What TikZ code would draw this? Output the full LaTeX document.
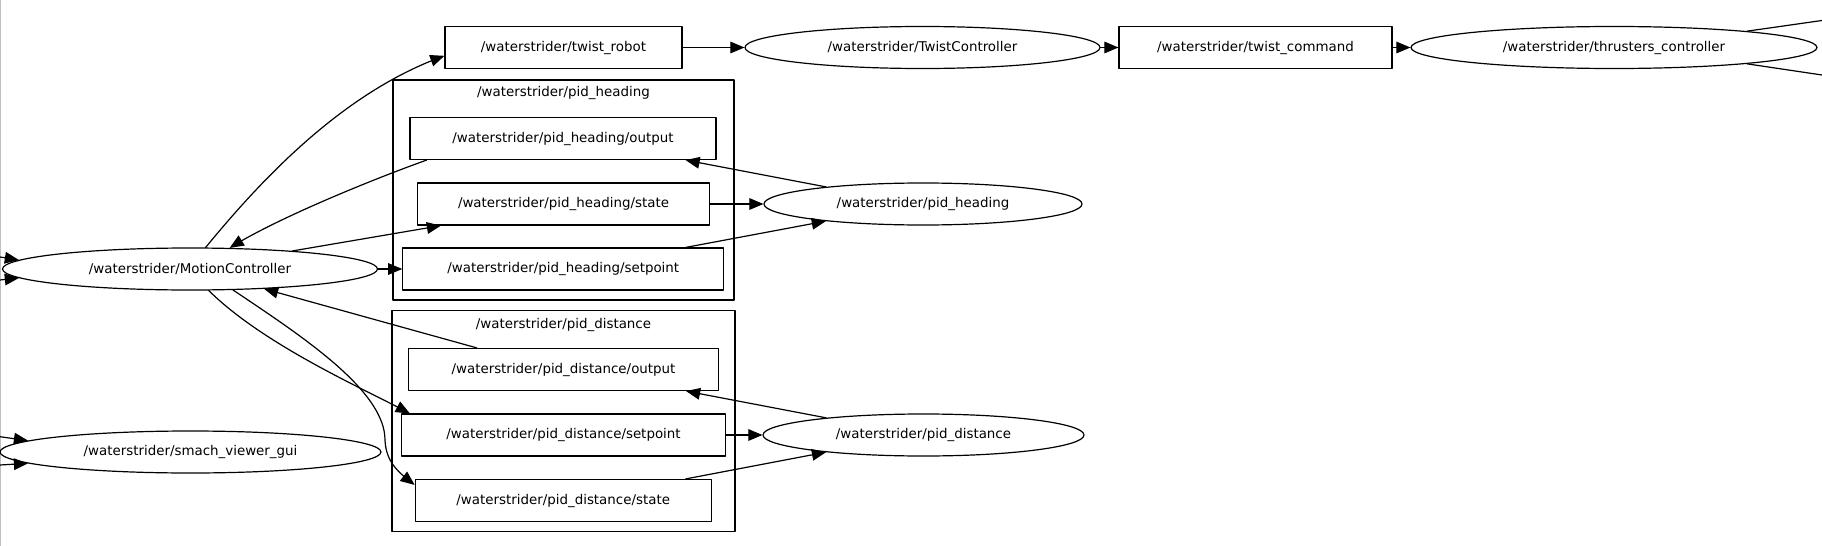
\documentclass[tikz,border=0pt]{standalone}
\usepackage{fontspec}
\setmainfont{DejaVu Sans}
\usepackage{tikz}
\usetikzlibrary{arrows,shapes.geometric}

\begin{document}
\begin{tikzpicture}[line cap=round,line join=round,>=triangle 45,x=0.5pt,y=-0.5pt,
    line width=0.6pt,
    every node/.style={font=\fontsize{6.7}{8}\selectfont},
    topic/.style={draw,rectangle,minimum height=21pt,inner sep=0pt},
    rosnode/.style={draw,ellipse,minimum height=21pt,inner sep=0pt}]
  \useasboundingbox (0,0) rectangle (1822,546);
  \draw[color=gray!50] (0.5,0) -- (0.5,546);

  \node[rosnode,minimum width=187.5pt] (mctrl) at (190,269) {/waterstrider/MotionController};
  \node[rosnode,minimum width=190.5pt] (smach) at (190.5,452) {/waterstrider/smach\_viewer\_gui};
  \node[topic,minimum width=118.5pt] (twrobot) at (563.5,47.5) {/waterstrider/twist\_robot};
  \node[rosnode,minimum width=177.5pt] (twctrl) at (922.5,47.5) {/waterstrider/TwistController};
  \node[topic,minimum width=136.5pt] (twcmd) at (1255.5,47.5) {/waterstrider/twist\_command};
  \node[rosnode,minimum width=203pt] (thrust) at (1614,47.5) {/waterstrider/thrusters\_controller};

  % pid_heading group
  \draw (393,80) rectangle (734,300);
  \node (hlabel) at (563.5,93) {/waterstrider/pid\_heading};
  \node[topic,minimum width=153pt] (hout) at (563,138.5) {/waterstrider/pid\_heading/output};
  \node[topic,minimum width=146pt] (hstate) at (563.5,204) {/waterstrider/pid\_heading/state};
  \node[topic,minimum width=160.5pt] (hset) at (563.3,269) {/waterstrider/pid\_heading/setpoint};
  \node[rosnode,minimum width=159pt] (hpid) at (923,204) {/waterstrider/pid\_heading};

  % pid_distance group
  \draw (392,310.7) rectangle (735,531.7);
  \node (dlabel) at (563.5,325) {/waterstrider/pid\_distance};
  \node[topic,minimum width=155pt] (dout) at (563.5,369.5) {/waterstrider/pid\_distance/output};
  \node[topic,minimum width=162pt] (dset) at (563.5,435) {/waterstrider/pid\_distance/setpoint};
  \node[topic,minimum width=148pt] (dstate) at (563.2,500.5) {/waterstrider/pid\_distance/state};
  \node[rosnode,minimum width=160.5pt] (dpid) at (923.5,435) {/waterstrider/pid\_distance};

  \draw[->] (mctrl.54) .. controls (265,175) and (345,92) .. (twrobot.184);
  \draw[->] (hout.189) .. controls (371,180) and (278,218) .. (mctrl.28);
  \draw[->] (mctrl.10) -- (hstate.190);
  \draw[->] (mctrl.east) -- (hset.west);
  \draw[->] (hstate.east) -- (hpid.west);
  \draw[->] (hpid.170) -- (hout.350);
  \draw[->] (hset.10) -- (hpid.190);
  \draw[->] (dout.166) -- (mctrl.345);
  \draw[->] (mctrl.311) .. controls (264,345) and (362,388) .. (dset.172);
  \draw[->] (mctrl.334) .. controls (300,335) and (385,390) .. (385,440)
    .. controls (386,462) and (398,472) .. (dstate.174);
  \draw[->] (dset.east) -- (dpid.west);
  \draw[->] (dpid.170) -- (dout.350);
  \draw[->] (dstate.10) -- (dpid.190);
  \draw[->] (twrobot) -- (twctrl);
  \draw[->] (twctrl) -- (twcmd);
  \draw[->] (twcmd) -- (thrust);

  % edges leaving the crop
  \coordinate (outa) at (1822,20.5);
  \coordinate (outb) at (1822,75);
  \draw (thrust.7) -- (outa);
  \draw (thrust.353) -- (outb);
  \coordinate (ina) at (0,257);
  \coordinate (inb) at (0,280);
  \coordinate (inc) at (0,436.7);
  \coordinate (ind) at (0,465);
  \draw[->] (ina) -- (mctrl.177);
  \draw[->] (inb) -- (mctrl.183);
  \draw[->] (inc) -- (smach.176);
  \draw[->] (ind) -- (smach.184);
\end{tikzpicture}
\end{document}
